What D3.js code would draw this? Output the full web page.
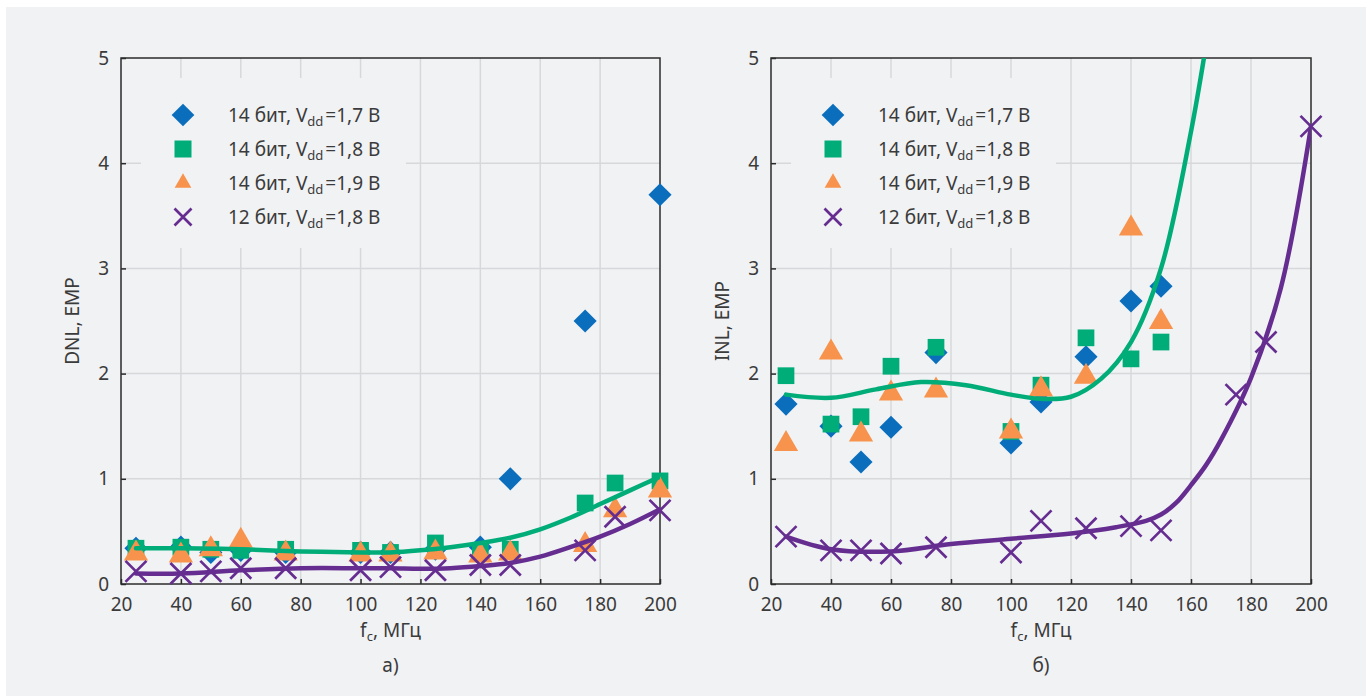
<!DOCTYPE html>
<html>
<head>
<meta charset="utf-8">
<script src="https://cdn.jsdelivr.net/npm/d3@7"></script>
<style>
  body { margin: 0; background: #ffffff; }
  svg text { font-family: "Noto Sans", "Open Sans", sans-serif; fill: #3b3b3b; }
</style>
</head>
<body>
<svg id="chart" width="1368" height="696"></svg>
<script>
// ---- data ----
const freqs = [25, 40, 50, 60, 75, 100, 110, 125, 140, 150, 175, 185, 200];

// DNL, ЕМР (panel а); null = point not visible
const dnl14v17 = [0.34, 0.35, 0.30, 0.32, 0.30, 0.30, 0.30, 0.33, 0.35, 1.00, 2.50, null, 3.70];
const dnl14v18 = [0.34, 0.35, 0.33, 0.32, 0.33, 0.32, 0.30, 0.39, 0.32, 0.33, 0.77, 0.96, 0.98];
const dnl14v19 = [0.29, 0.27, 0.33, 0.41, 0.29, 0.28, 0.28, 0.30, 0.27, 0.29, 0.37, 0.70, 0.89];
const dnl12v18 = [0.12, 0.10, 0.12, 0.15, 0.15, 0.13, 0.16, 0.13, 0.18, 0.18, 0.32, 0.64, 0.70];

const dnlTrendF = [25, 40, 60, 80, 100, 110, 120, 130, 140, 150, 160, 170, 180, 190, 200];
const dnlTrend14 = [0.34, 0.34, 0.33, 0.31, 0.30, 0.30, 0.32, 0.35, 0.39, 0.44, 0.52, 0.63, 0.76, 0.89, 1.02];
const dnlTrend12 = [0.10, 0.10, 0.13, 0.15, 0.15, 0.15, 0.145, 0.15, 0.17, 0.20, 0.26, 0.35, 0.45, 0.57, 0.71];

// INL, ЕМР (panel б)
const inlFreqs14 = [25, 40, 50, 60, 75, 100, 110, 125, 140, 150];
const inl14v17 = [1.71, 1.50, 1.16, 1.49, 2.20, 1.34, 1.73, 2.16, 2.69, 2.83];
const inl14v18 = [1.98, 1.52, 1.59, 2.07, 2.25, 1.45, 1.89, 2.34, 2.14, 2.30];
const inl14v19 = [1.33, 2.20, 1.42, 1.81, 1.84, 1.45, 1.85, 1.97, 3.38, 2.49];
const inl12v18 = [0.45, 0.32, 0.32, 0.29, 0.35, 0.30, 0.60, 0.53, 0.55, 0.51, 1.80, 2.30, 4.35];

const inlTrendF14 = [25, 40, 55, 70, 85, 100, 110, 120, 130, 140, 150, 160, 166];
const inlTrend14 = [1.80, 1.77, 1.85, 1.92, 1.89, 1.80, 1.76, 1.78, 1.95, 2.30, 3.00, 4.30, 5.30];
const inlTrendF12 = [25, 40, 60, 80, 100, 120, 135, 145, 150, 155, 160, 165, 170, 180, 190, 200];
const inlTrend12 = [0.45, 0.33, 0.31, 0.38, 0.43, 0.48, 0.54, 0.60, 0.66, 0.77, 0.94, 1.13, 1.37, 1.96, 2.82, 4.35];

const xTicks = [20, 40, 60, 80, 100, 120, 140, 160, 180, 200];
const yTicks = [0, 1, 2, 3, 4, 5];
const legendLabels = [
  { bits: "14 бит", volt: "=1,7 В" },
  { bits: "14 бит", volt: "=1,8 В" },
  { bits: "14 бит", volt: "=1,9 В" },
  { bits: "12 бит", volt: "=1,8 В" }
];

const colors = { blue: "#0a6ebd", green: "#00ad78", orange: "#f7934c", purple: "#662d91" };

const svg = d3.select("#chart");
svg.append("rect").attr("x", 6).attr("y", 7).attr("width", 1360).attr("height", 689).attr("fill", "#f1f2f4");

function crossPath(r) {
  return `M${-r},${-r}L${r},${r}M${-r},${r}L${r},${-r}`;
}

function drawMarker(g, kind, cx, cy, big) {
  if (kind === "diamond") {
    g.append("path").attr("d", d3.symbol().type(d3.symbolSquare).size(big ? 268 : 258)())
      .attr("transform", `translate(${cx},${cy}) rotate(45)`).attr("fill", colors.blue);
  } else if (kind === "square") {
    g.append("path").attr("d", d3.symbol().type(d3.symbolSquare).size(big ? 280 : 289)())
      .attr("transform", `translate(${cx},${cy})`).attr("fill", colors.green);
  } else if (kind === "triangle") {
    g.append("path").attr("d", d3.symbol().type(d3.symbolTriangle).size(big ? 255 : 121)())
      .attr("transform", `translate(${cx},${cy})`).attr("fill", colors.orange);
  } else {
    g.append("path").attr("d", crossPath(big ? 10.5 : 8.5))
      .attr("transform", `translate(${cx},${cy})`)
      .attr("fill", "none").attr("stroke", colors.purple).attr("stroke-width", 2.7);
  }
}

function drawPanel(cfg) {
  const x = d3.scaleLinear().domain([20, 200]).range([cfg.left, cfg.right]);
  const y = d3.scaleLinear().domain([0, 5]).range([584, 58]);
  const g = svg.append("g");

  // grid
  g.selectAll(null).data(xTicks.slice(1, -1)).join("line")
    .attr("x1", d => x(d)).attr("x2", d => x(d)).attr("y1", y(0)).attr("y2", y(5))
    .attr("stroke", "#d7d8da").attr("stroke-width", 1.5);
  g.selectAll(null).data(yTicks.slice(1, -1)).join("line")
    .attr("x1", x(20)).attr("x2", x(200)).attr("y1", d => y(d)).attr("y2", d => y(d))
    .attr("stroke", "#d7d8da").attr("stroke-width", 1.5);

  // axes (inward ticks)
  const ax = g.append("g").attr("transform", `translate(0,${y(0)})`)
    .call(d3.axisBottom(x).tickValues(xTicks).tickFormat(d3.format("d"))
      .tickSizeInner(-5).tickSizeOuter(0).tickPadding(14));
  const ay = g.append("g").attr("transform", `translate(${x(20)},0)`)
    .call(d3.axisLeft(y).tickValues(yTicks).tickFormat(d3.format("d"))
      .tickSizeInner(-5).tickSizeOuter(0).tickPadding(12));
  [ax, ay].forEach(a => {
    a.select(".domain").remove();
    a.selectAll(".tick line").attr("stroke", "#2b2b2b").attr("stroke-width", 1.5);
    a.selectAll(".tick text").attr("font-size", 19).attr("fill", "#3b3b3b")
      .attr("font-family", "Noto Sans, sans-serif");
  });

  // frame
  g.append("rect").attr("x", x(20)).attr("y", y(5))
    .attr("width", x(200) - x(20)).attr("height", y(0) - y(5))
    .attr("fill", "none").attr("stroke", "#2b2b2b").attr("stroke-width", 1.5);

  // clip for trend lines
  const clipId = "clip" + cfg.id;
  svg.append("clipPath").attr("id", clipId).append("rect")
    .attr("x", x(20)).attr("y", y(5)).attr("width", x(200) - x(20)).attr("height", y(0) - y(5));

  // markers
  const pts = g.append("g");
  cfg.series.forEach(s => {
    s.f.forEach((f, i) => {
      if (s.v[i] != null) drawMarker(pts, s.kind, x(f), y(s.v[i]), true);
    });
  });

  // trend lines
  const line = d3.line().x(d => x(d[0])).y(d => y(d[1])).curve(d3.curveCatmullRom.alpha(0.5));
  cfg.trends.forEach(t => {
    g.append("path").attr("clip-path", `url(#${clipId})`)
      .attr("d", line(t.f.map((f, i) => [f, t.v[i]])))
      .attr("fill", "none").attr("stroke", t.color).attr("stroke-width", 4.5)
      .attr("stroke-linecap", "round").attr("stroke-linejoin", "round");
  });

  // legend
  const lg = g.append("g");
  lg.append("rect").attr("x", cfg.left + 20).attr("y", 78).attr("width", 265).attr("height", 170)
    .attr("fill", "#f1f2f4");
  const kinds = ["diamond", "square", "triangle", "cross"];
  const rows = [115, 149, 183, 217];
  kinds.forEach((k, i) => {
    drawMarker(lg, k, cfg.left + 62, rows[i], false);
    const t = lg.append("text").attr("x", cfg.left + 107).attr("y", rows[i] + 7).attr("font-size", 19);
    t.append("tspan").text(legendLabels[i].bits + ", V");
    t.append("tspan").attr("font-size", 13).attr("dy", 4).text("dd");
    t.append("tspan").attr("dy", -4).attr("dx", 2).text(legendLabels[i].volt);
  });

  // titles
  const cx = (x(20) + x(200)) / 2;
  const xt = g.append("text").attr("x", cx).attr("y", 637).attr("text-anchor", "middle").attr("font-size", 19);
  xt.append("tspan").text("f");
  xt.append("tspan").attr("font-size", 13).attr("dy", 4).text("c");
  xt.append("tspan").attr("dy", -4).text(", МГц");
  g.append("text").attr("x", cx).attr("y", 672).attr("text-anchor", "middle").attr("font-size", 19).text(cfg.tag);
  g.append("text").attr("transform", `translate(${cfg.left - 42},${(y(0) + y(5)) / 2}) rotate(-90)`)
    .attr("text-anchor", "middle").attr("font-size", 19).text(cfg.yTitle);
}

drawPanel({
  id: "a", left: 121, right: 660, tag: "а)", yTitle: "DNL, ЕМР",
  series: [
    { kind: "diamond", f: freqs, v: dnl14v17 },
    { kind: "square", f: freqs, v: dnl14v18 },
    { kind: "triangle", f: freqs, v: dnl14v19 },
    { kind: "cross", f: freqs, v: dnl12v18 }
  ],
  trends: [
    { f: dnlTrendF, v: dnlTrend14, color: colors.green },
    { f: dnlTrendF, v: dnlTrend12, color: colors.purple }
  ]
});

drawPanel({
  id: "b", left: 771, right: 1311, tag: "б)", yTitle: "INL, ЕМР",
  series: [
    { kind: "diamond", f: inlFreqs14, v: inl14v17 },
    { kind: "square", f: inlFreqs14, v: inl14v18 },
    { kind: "triangle", f: inlFreqs14, v: inl14v19 },
    { kind: "cross", f: freqs, v: inl12v18 }
  ],
  trends: [
    { f: inlTrendF14, v: inlTrend14, color: colors.green },
    { f: inlTrendF12, v: inlTrend12, color: colors.purple }
  ]
});
</script>
</body>
</html>
